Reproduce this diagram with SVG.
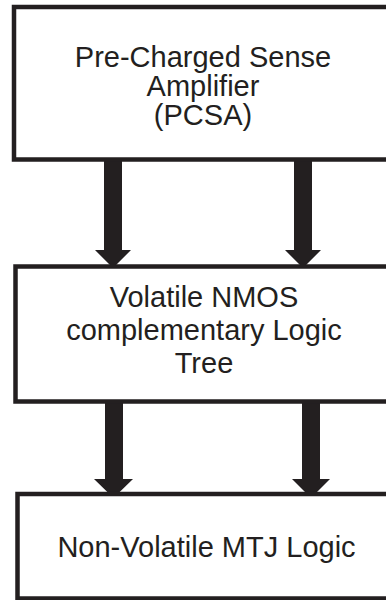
<svg xmlns="http://www.w3.org/2000/svg" width="386" height="600" viewBox="0 0 386 600">
  <style>
    .box { fill: #ffffff; stroke: #231f20; stroke-width: 4.5; }
    .label { font-family: "Liberation Sans", Arial, sans-serif; font-size: 29px; fill: #231f20; text-anchor: middle; }
    .arrow { fill: #231f20; }
  </style>
  <rect width="386" height="600" fill="#ffffff"/>

  <g id="connectors">
    <!-- PCSA to logic tree -->
    <polygon class="arrow" points="104,160 122,160 122,250 131,250 113,268 95,250 104,250"/>
    <polygon class="arrow" points="294,160 312,160 312,250 321,250 303,268 285,250 294,250"/>
    <!-- logic tree to MTJ logic -->
    <polygon class="arrow" points="105,402 123,402 123,479 133,479 113.5,498 94,479 105,479"/>
    <polygon class="arrow" points="302,402 320,402 320,479 330,479 311,498 292,479 302,479"/>
  </g>

  <g id="pcsa">
    <rect class="box" x="14" y="7" width="378" height="152.5"/>
    <text class="label" x="203" y="67">Pre-Charged Sense</text>
    <text class="label" x="203" y="96">Amplifier</text>
    <text class="label" x="203" y="125">(PCSA)</text>
  </g>

  <g id="logic-tree">
    <rect class="box" x="15.5" y="266.5" width="377" height="135"/>
    <text class="label" x="204" y="307">Volatile NMOS</text>
    <text class="label" x="204" y="340">complementary Logic</text>
    <text class="label" x="204" y="373">Tree</text>
  </g>

  <g id="mtj-logic">
    <rect class="box" x="17.5" y="494" width="379" height="104.5"/>
    <text class="label" x="206.5" y="557">Non-Volatile MTJ Logic</text>
  </g>
</svg>
